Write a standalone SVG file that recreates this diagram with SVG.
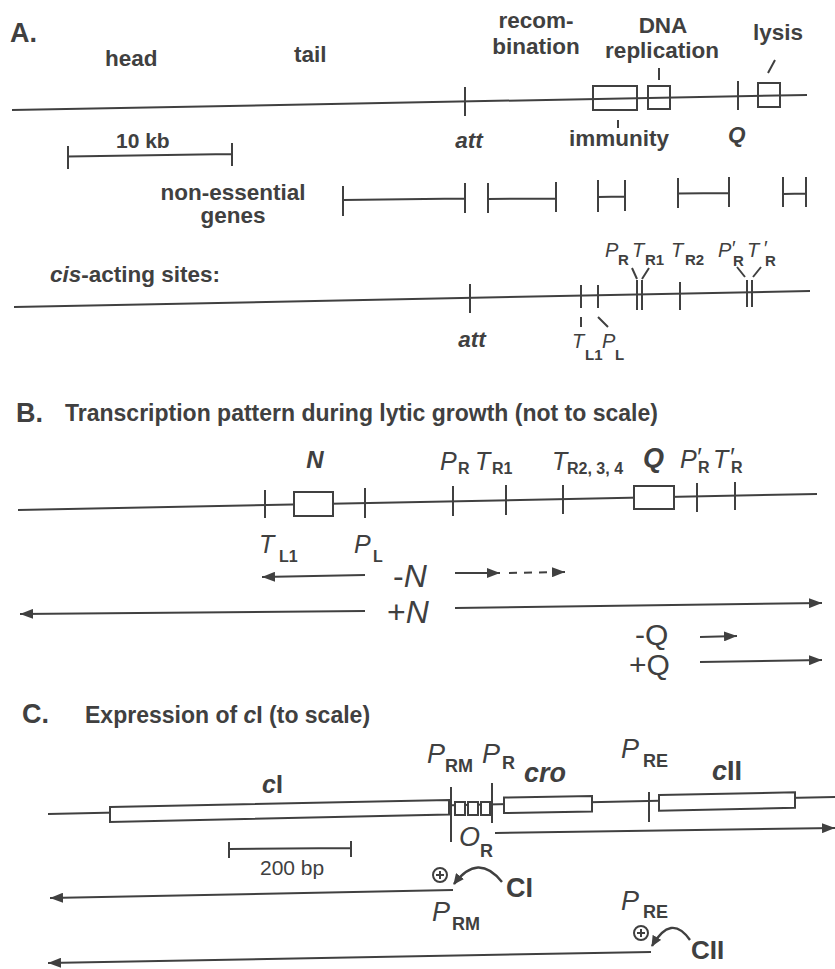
<svg xmlns="http://www.w3.org/2000/svg" width="835" height="969" viewBox="0 0 835 969">
<defs>
<style>
.t{font-family:"Liberation Sans",Arial,sans-serif;fill:#404040}
.b{font-weight:bold}
.i{font-style:italic}
.ln{stroke:#404040;stroke-width:2;fill:none}
.bx{stroke:#404040;stroke-width:2;fill:#fff}
.bo{stroke:#404040;stroke-width:2;fill:none}
.ar{stroke:#404040;stroke-width:2;fill:none;marker-end:url(#ah)}
.cv{stroke:#404040;stroke-width:2.4;fill:none;marker-end:url(#ahs)}
.pa{font-style:italic;font-size:20px}
.sa{font-weight:bold;font-size:15px}
.pb{font-style:italic;font-size:25px}
.sb{font-weight:bold;font-size:16px}
.pc{font-style:italic;font-size:27px}
.sc{font-weight:bold;font-size:18px}
</style>
<marker id="ah" markerUnits="userSpaceOnUse" markerWidth="13" markerHeight="10" refX="13" refY="5" orient="auto"><path d="M0,0 L13,5 L0,10 z" fill="#404040"/></marker>
<marker id="ahs" markerUnits="userSpaceOnUse" markerWidth="11" markerHeight="10" refX="10" refY="5" orient="auto"><path d="M0,0 L11,5 L0,10 z" fill="#404040"/></marker>
</defs>
<rect width="835" height="969" fill="#fff"/>

<!-- Section A -->
<g id="sectionA-labels" class="t b" font-size="22.5">
<text x="10" y="42" font-size="27">A.</text>
<text x="105" y="66">head</text>
<text x="294" y="62">tail</text>
<text x="536" y="28" text-anchor="middle">recom-</text>
<text x="536" y="54" text-anchor="middle">bination</text>
<text x="663" y="33" text-anchor="middle">DNA</text>
<text x="662" y="58" text-anchor="middle">replication</text>
<text x="753" y="40">lysis</text>
<text x="469" y="148" text-anchor="middle" class="i">att</text>
<text x="619" y="146" text-anchor="middle">immunity</text>
<text x="728" y="142" class="i">Q</text>
<text x="116" y="148" font-size="21">10 kb</text>
<text x="233" y="200" text-anchor="middle">non-essential</text>
<text x="233" y="223" text-anchor="middle">genes</text>
<text x="50" y="282"><tspan class="i">cis</tspan>-acting sites:</text>
<text x="472" y="347" text-anchor="middle" class="i">att</text>
</g>
<g id="genome-map">
<path class="ln" d="M12,110 L807,95"/>
<path class="ln" d="M465,87 V116 M659,68 V80 M618,120 V128 M738,81 V110 M768,73 L775,60"/>
<rect class="bo" x="593" y="86" width="44" height="24"/>
<rect class="bo" x="648" y="86" width="22" height="23"/>
<rect class="bo" x="758" y="83" width="22" height="24"/>
</g>
<g id="scale-10kb">
<path class="ln" d="M68,156.5 L232,154 M68,146 V169 M232,143 V166"/>
</g>
<g id="non-essential-bars">
<path class="ln" d="M343,200 L465,198.5 M343,186 V216 M465,183 V213"/>
<path class="ln" d="M488,199 L556,198.5 M488,183 V213 M556,182 V212"/>
<path class="ln" d="M598,197 L625,196.5 M598,180 V212 M625,180 V211"/>
<path class="ln" d="M678,193.5 L729,193 M678,178 V208 M729,177 V207"/>
<path class="ln" d="M783,194 L806,193.5 M783,177 V207 M806,177 V207"/>
</g>
<g id="cis-sites">
<path class="ln" d="M14,307 L810,291"/>
<path class="ln" d="M470,284 V313 M581,285 V308 M581,317 V327 M598,285 V308 M598,317 L608,327"/>
<path class="ln" d="M637,280 V310 M642,280 V310 M632,268 L637,279 M649,268 L642,279 M680,282 V310"/>
<path class="ln" d="M747,280 V307 M752,280 V307 M737,267 L745,277 M761,267 L753,277"/>
</g>
<g id="cis-labels" class="t">
<text><tspan class="pa" x="605" y="257">P</tspan><tspan class="sa" x="618" y="265">R</tspan><tspan class="pa" x="632" y="257">T</tspan><tspan class="sa" x="645" y="265">R1</tspan><tspan class="pa" x="671" y="257">T</tspan><tspan class="sa" x="685" y="265">R2</tspan></text>
<text><tspan class="pa" x="718" y="257">P</tspan><tspan class="pa" x="731" y="255">′</tspan><tspan class="sa" x="733" y="266">R</tspan><tspan class="pa" x="747" y="257">T</tspan><tspan class="pa" x="763" y="255">′</tspan><tspan class="sa" x="765" y="266">R</tspan></text>
<text><tspan class="pa" x="572" y="348">T</tspan><tspan class="sa" x="585" y="360">L1</tspan><tspan class="pa" x="602" y="348">P</tspan><tspan class="sa" x="615" y="360">L</tspan></text>
</g>

<!-- Section B -->
<g id="sectionB-title" class="t b">
<text x="16" y="422" font-size="27">B.</text>
<text x="65" y="421" font-size="23">Transcription pattern during lytic growth (not to scale)</text>
</g>
<g id="lytic-map">
<path class="ln" d="M18,510 L817,494"/>
<path class="ln" d="M265,490 V518 M365,488 V518 M453,486 V516 M506,485 V515 M563,485 V514 M697,483 V512 M735,482 V510"/>
<rect class="bx" x="294" y="492" width="39" height="24"/>
<rect class="bx" x="634" y="486" width="40" height="23"/>
</g>
<g id="lytic-labels" class="t">
<text class="b i" font-size="24" x="315" y="468" text-anchor="middle">N</text>
<text class="b i" font-size="27" x="643" y="467">Q</text>
<text><tspan class="pb" x="259" y="553">T</tspan><tspan class="sb" x="279" y="562">L1</tspan></text>
<text><tspan class="pb" x="354" y="553">P</tspan><tspan class="sb" x="373" y="562">L</tspan></text>
<text><tspan class="pb" x="440" y="470">P</tspan><tspan class="sb" x="458" y="474">R</tspan></text>
<text><tspan class="pb" x="475" y="470">T</tspan><tspan class="sb" x="492" y="474">R1</tspan></text>
<text><tspan class="pb" x="552" y="470">T</tspan><tspan class="sb" x="567" y="474">R2, 3, 4</tspan></text>
<text><tspan class="pb" x="680" y="468">P</tspan><tspan class="pb" x="696" y="466">′</tspan><tspan class="sb" x="698" y="473">R</tspan><tspan class="pb" x="713" y="468">T</tspan><tspan class="pb" x="729" y="466">′</tspan><tspan class="sb" x="731" y="473">R</tspan></text>
<text font-size="32" x="393" y="587">-<tspan class="i">N</tspan></text>
<text font-size="32" x="387" y="623">+<tspan class="i">N</tspan></text>
<text font-size="30" x="635" y="645">-Q</text>
<text font-size="30" x="629" y="675">+Q</text>
</g>
<g id="connectors-B">
<path class="ar" d="M365,575 L262,577"/>
<path class="ar" d="M455,573 L500,573"/>
<path class="ln" d="M509,573 L553,572.2" stroke-dasharray="8 7"/>
<path class="ar" d="M553,572.2 L565,572"/>
<path class="ar" d="M365,611 L20,614"/>
<path class="ar" d="M455,608 L822,603"/>
<path class="ar" d="M700,637 L737,636"/>
<path class="ar" d="M700,662 L822,660"/>
</g>

<!-- Section C -->
<g id="sectionC-title" class="t b">
<text x="22" y="723" font-size="27">C.</text>
<text x="85" y="723" font-size="23">Expression of <tspan class="i">c</tspan>I (to scale)</text>
</g>
<g id="cI-map">
<path class="ln" d="M48,814 L835,797"/>
<polygon class="bx" points="110,807 449,800 449,814.5 110,822"/>
<rect class="bx" x="455" y="802" width="10" height="13"/>
<rect class="bx" x="468" y="802" width="10" height="13"/>
<rect class="bx" x="481" y="802" width="9" height="13"/>
<polygon class="bx" points="504,797.5 592,796 592,811.5 504,813"/>
<polygon class="bx" points="659,795 795,792.3 795,807.7 659,810.7"/>
<path class="ln" d="M451,787 V842 M492,783 V823 M649,792 V822"/>
</g>
<g id="scale-200bp">
<path class="ln" d="M229,849 L351,848 M229,842 V858 M351,841 V857"/>
<text class="t" font-size="21" x="260" y="875">200 bp</text>
</g>
<g id="cI-labels" class="t">
<text class="b" font-size="25" x="262" y="793"><tspan class="i">c</tspan>I</text>
<text><tspan class="pc" x="427" y="763">P</tspan><tspan class="sc" x="445" y="772">RM</tspan><tspan class="pc" x="482" y="763">P</tspan><tspan class="sc" x="502" y="769">R</tspan></text>
<text class="b i" font-size="27" x="524" y="782">cro</text>
<text><tspan class="pc" x="621" y="758">P</tspan><tspan class="sc" x="643" y="767">RE</tspan></text>
<text class="b" font-size="27" x="712" y="780"><tspan class="i">c</tspan>II</text>
<text><tspan class="pc" x="459" y="846" font-size="24">O</tspan><tspan class="sc" x="480" y="857" font-size="17">R</tspan></text>
<text class="b" font-size="27" x="506" y="897">CI</text>
<text><tspan class="pc" x="432" y="921">P</tspan><tspan class="sc" x="452" y="930">RM</tspan></text>
<text><tspan class="pc" x="621" y="910">P</tspan><tspan class="sc" x="643" y="918">RE</tspan></text>
<text class="b" font-size="26" x="691" y="959">CII</text>
</g>
<g id="plus-symbols">
<circle class="bo" cx="440" cy="875" r="7"/>
<path class="ln" d="M436,875 H444 M440,871 V879"/>
<circle class="bo" cx="641" cy="933" r="7"/>
<path class="ln" d="M637,933 H645 M641,929 V937"/>
</g>
<g id="connectors-C">
<path class="ar" d="M495,833 L835,828"/>
<path class="ar" d="M453,890 L50,898"/>
<path class="ar" d="M651,952 L48,963"/>
<path class="cv" d="M502,882 Q478,852 454,884"/>
<path class="cv" d="M690,940 Q671,913 652,946"/>
</g>
</svg>
